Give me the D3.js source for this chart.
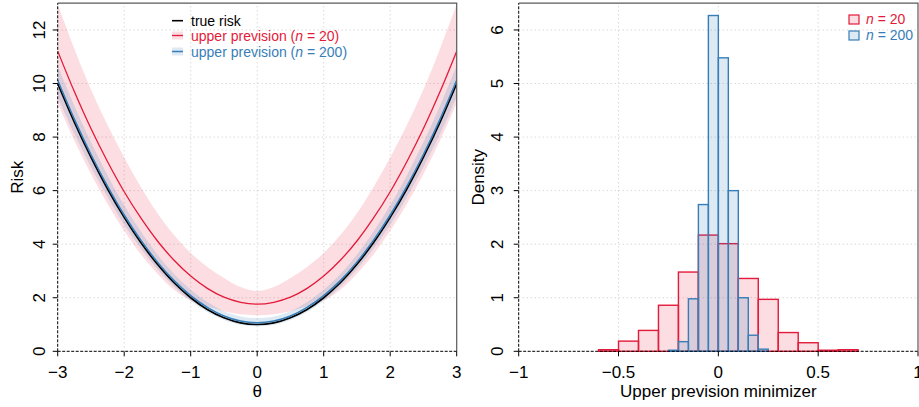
<!DOCTYPE html>
<html>
<head>
<meta charset="utf-8">
<script src="https://cdn.jsdelivr.net/npm/d3@7"></script>
<style>
  html, body { margin: 0; padding: 0; background: #fff; }
  svg { display: block; font-family: "Liberation Sans", Arial, Helvetica, sans-serif; }
</style>
</head>
<body>
<svg id="chart" width="919" height="407"></svg>
<script>
// ---------------- data ----------------
const theta = [-3,-2.75,-2.5,-2.25,-2,-1.75,-1.5,-1.25,-1,-0.75,-0.5,-0.25,0,
               0.25,0.5,0.75,1,1.25,1.5,1.75,2,2.25,2.5,2.75,3];
const trueRisk = [10,8.56,7.25,6.06,5,4.06,3.25,2.56,2,1.56,1.25,1.06,1,
                  1.06,1.25,1.56,2,2.56,3.25,4.06,5,6.06,7.25,8.56,10];
const upper20 = [11.21,9.70,8.32,7.08,5.96,4.98,4.12,3.40,2.81,2.35,2.02,1.83,1.76,
                 1.83,2.02,2.35,2.81,3.40,4.12,4.98,5.96,7.08,8.32,9.70,11.21];
const upper20Hi = [12.96,11.30,9.78,8.44,7.24,6.14,5.16,4.34,3.67,3.15,2.74,2.40,2.25,
                   2.40,2.74,3.15,3.67,4.34,5.16,6.14,7.24,8.44,9.78,11.30,12.96];
const upper20Lo = [9.27,7.87,6.62,5.50,4.50,3.62,2.90,2.30,1.90,1.68,1.50,1.38,1.35,
                   1.38,1.50,1.68,1.90,2.30,2.90,3.62,4.50,5.50,6.62,7.87,9.27];
const upper200 = [10.12,8.67,7.35,6.16,5.09,4.15,3.33,2.64,2.08,1.64,1.32,1.13,1.07,
                  1.13,1.32,1.64,2.08,2.64,3.33,4.15,5.09,6.16,7.35,8.67,10.12];
const upper200Hi = [10.67,9.17,7.81,6.57,5.45,4.47,3.61,2.89,2.30,1.84,1.50,1.30,1.24,
                    1.30,1.50,1.84,2.30,2.89,3.61,4.47,5.45,6.57,7.81,9.17,10.67];
const upper200Lo = [9.50,8.12,6.88,5.75,4.73,3.84,3.06,2.41,1.88,1.47,1.17,0.99,0.94,
                    0.99,1.17,1.47,1.88,2.41,3.06,3.84,4.73,5.75,6.88,8.12,9.50];

// histogram of minimizers
const bins20 = [-0.6,-0.5,-0.4,-0.3,-0.2,-0.1,0,0.1,0.2,0.3,0.4,0.5,0.6,0.7];
const dens20 = [0.03,0.19,0.39,0.86,1.48,2.17,2.01,1.36,0.97,0.35,0.16,0.02,0.03];
const bins200 = [-0.25,-0.2,-0.15,-0.1,-0.05,0,0.05,0.1,0.15,0.2,0.25];
const dens200 = [0.02,0.18,0.98,2.74,6.27,5.48,3.00,1.00,0.30,0.04];

// axis ticks
const leftXTicks = [-3,-2,-1,0,1,2,3];
const leftYTicks = [0,2,4,6,8,10,12];
const rightXTicks = [-1,-0.5,0,0.5,1];
const rightYTicks = [0,1,2,3,4,5,6];

// ---------------- styles ----------------
const RED = "#E41A3A", BLUE = "#377EB8";
const PINK_FILL = "rgba(228,26,58,0.15)", BLUE_FILL = "rgba(55,126,184,0.17)";
const TICK_FONT = 17, LEG_FONT = 14;
const fmt = v => (v < 0 ? "\u2212" + Math.abs(v) : String(v));

const svg = d3.select("#chart");

function frame(g, x, y, xTicks, yTicks) {
  const [x0, x1] = x.range(), [y0, y1] = y.range();
  g.append("g").selectAll("line").data(xTicks).join("line")
    .attr("x1", d => x(d)).attr("x2", d => x(d)).attr("y1", y0).attr("y2", y1)
    .attr("stroke", "#c8c8c8").attr("stroke-width", 1).attr("stroke-dasharray", "1,3");
  g.append("g").selectAll("line").data(yTicks).join("line")
    .attr("x1", x0).attr("x2", x1).attr("y1", d => y(d)).attr("y2", d => y(d))
    .attr("stroke", "#c8c8c8").attr("stroke-width", 1).attr("stroke-dasharray", "1,3");
}

function axesOver(g, x, y, xTicks, yTicks, yLabelX, xTitle, yTitle, yTitleX) {
  const [x0, x1] = x.range(), [y0, y1] = y.range();
  g.append("path").attr("d", `M${x0},${y1}H${x1}V${y0}`)
    .attr("fill", "none").attr("stroke", "#5a5a5a").attr("stroke-width", 1.2);
  g.append("line").attr("x1", x0).attr("x2", x0).attr("y1", y0).attr("y2", y1)
    .attr("stroke", "#000").attr("stroke-width", 1).attr("stroke-dasharray", "3,1.5");
  g.append("line").attr("x1", x0).attr("x2", x1).attr("y1", y0).attr("y2", y0)
    .attr("stroke", "#000").attr("stroke-width", 1).attr("stroke-dasharray", "3,1.5");
  g.append("g").selectAll("line").data(xTicks).join("line")
    .attr("x1", d => x(d)).attr("x2", d => x(d)).attr("y1", y0).attr("y2", y0 + 5)
    .attr("stroke", "#000").attr("stroke-width", 1);
  g.append("g").selectAll("line").data(yTicks).join("line")
    .attr("x1", x0 - 5).attr("x2", x0).attr("y1", d => y(d)).attr("y2", d => y(d))
    .attr("stroke", "#000").attr("stroke-width", 1);
  g.append("g").selectAll("text").data(xTicks).join("text")
    .attr("x", d => x(d)).attr("y", 378).attr("text-anchor", "middle")
    .attr("font-size", TICK_FONT).attr("fill", "#000").text(fmt);
  g.append("g").selectAll("text").data(yTicks).join("text")
    .attr("transform", d => `translate(${yLabelX},${y(d)}) rotate(-90)`)
    .attr("text-anchor", "middle").attr("font-size", TICK_FONT).attr("fill", "#000").text(fmt);
  g.append("text").attr("x", (x0 + x1) / 2).attr("y", 397).attr("text-anchor", "middle")
    .attr("font-size", TICK_FONT).attr("fill", "#000").text(xTitle);
  g.append("text").attr("transform", `translate(${yTitleX},${(y0 + y1) / 2}) rotate(-90)`)
    .attr("text-anchor", "middle").attr("font-size", TICK_FONT).attr("fill", "#000").text(yTitle);
}

// ---------------- left panel ----------------
const xL = d3.scaleLinear().domain([-3, 3]).range([57.7, 456.7]);
const yL = d3.scaleLinear().domain([0, 13]).range([351.3, 3.2]);
const gL = svg.append("g");
frame(gL, xL, yL, leftXTicks.slice(1, -1), leftYTicks.slice(1));

svg.append("defs").append("clipPath").attr("id", "clipL").append("rect")
  .attr("x", 57.7).attr("y", 3.2).attr("width", 399).attr("height", 348.1);
const plotL = gL.append("g").attr("clip-path", "url(#clipL)");
const idx = d3.range(theta.length);
const curve = d3.curveCatmullRom.alpha(0.5);

const area = (lo, hi) => d3.area().curve(curve)
  .x(i => xL(theta[i])).y0(i => yL(lo[i])).y1(i => yL(hi[i]));
const line = (v) => d3.line().curve(curve).x(i => xL(theta[i])).y(i => yL(v[i]));

plotL.append("path").attr("d", area(upper20Lo, upper20Hi)(idx)).attr("fill", PINK_FILL);
plotL.append("path").attr("d", area(upper200Lo, upper200Hi)(idx)).attr("fill", BLUE_FILL);
plotL.append("path").attr("d", line(trueRisk)(idx)).attr("fill", "none")
  .attr("stroke", "#000").attr("stroke-width", 1.7);
plotL.append("path").attr("d", line(upper200)(idx)).attr("fill", "none")
  .attr("stroke", BLUE).attr("stroke-width", 1.5);
plotL.append("path").attr("d", line(upper20)(idx)).attr("fill", "none")
  .attr("stroke", RED).attr("stroke-width", 1.3);

axesOver(gL, xL, yL, leftXTicks, leftYTicks, 45, "\u03b8", "Risk", 23);

// left legend
const legL = gL.append("g").attr("font-size", LEG_FONT);
const legItems = [
  { label: ["true risk"], color: "#000", fill: null, y: 20.7, w: 1.6 },
  { label: ["upper prevision (", "n", " = 20)"], color: RED, fill: PINK_FILL, y: 35.5, w: 1.3 },
  { label: ["upper prevision (", "n", " = 200)"], color: BLUE, fill: BLUE_FILL, y: 51.5, w: 1.5 }
];
legItems.forEach(it => {
  if (it.fill) legL.append("rect").attr("x", 172).attr("y", it.y - 4).attr("width", 11)
    .attr("height", 8).attr("fill", it.fill);
  legL.append("line").attr("x1", 172).attr("x2", 183).attr("y1", it.y).attr("y2", it.y)
    .attr("stroke", it.color).attr("stroke-width", it.w);
  const t = legL.append("text").attr("x", 191).attr("y", it.y + 5).attr("fill", it.color);
  it.label.forEach((s, k) => t.append("tspan").attr("font-style", k === 1 ? "italic" : null).text(s));
});

// ---------------- right panel ----------------
const xR = d3.scaleLinear().domain([-1, 1]).range([518.7, 918]);
const yR = d3.scaleLinear().domain([0, 6.5]).range([351.3, 3.2]);
const gR = svg.append("g");
frame(gR, xR, yR, rightXTicks.slice(1, -1), rightYTicks.slice(1));

const bars20 = dens20.map((d, i) => ({ x0: bins20[i], x1: bins20[i + 1], d }));
const bars200 = dens200.map((d, i) => ({ x0: bins200[i], x1: bins200[i + 1], d }));

gR.append("g").selectAll("rect").data(bars20).join("rect")
  .attr("x", b => xR(b.x0)).attr("width", b => xR(b.x1) - xR(b.x0))
  .attr("y", b => yR(b.d)).attr("height", b => yR(0) - yR(b.d))
  .attr("fill", PINK_FILL).attr("stroke", RED).attr("stroke-width", 1.4);
gR.append("g").selectAll("rect").data(bars200).join("rect")
  .attr("x", b => xR(b.x0)).attr("width", b => xR(b.x1) - xR(b.x0))
  .attr("y", b => yR(b.d)).attr("height", b => yR(0) - yR(b.d))
  .attr("fill", BLUE_FILL).attr("stroke", BLUE).attr("stroke-width", 1.4);

axesOver(gR, xR, yR, rightXTicks, rightYTicks, 503, "Upper prevision minimizer", "Density", 484);

// right legend
const legR = gR.append("g").attr("font-size", LEG_FONT);
[
  { n: " = 20", color: RED, fill: PINK_FILL, y: 24 },
  { n: " = 200", color: BLUE, fill: BLUE_FILL, y: 40 }
].forEach(it => {
  legR.append("rect").attr("x", 849).attr("y", it.y - 9).attr("width", 10).attr("height", 9)
    .attr("fill", it.fill).attr("stroke", it.color).attr("stroke-width", 1.2);
  const t = legR.append("text").attr("x", 866).attr("y", it.y).attr("fill", it.color);
  t.append("tspan").attr("font-style", "italic").text("n");
  t.append("tspan").text(it.n);
});
</script>
</body>
</html>
